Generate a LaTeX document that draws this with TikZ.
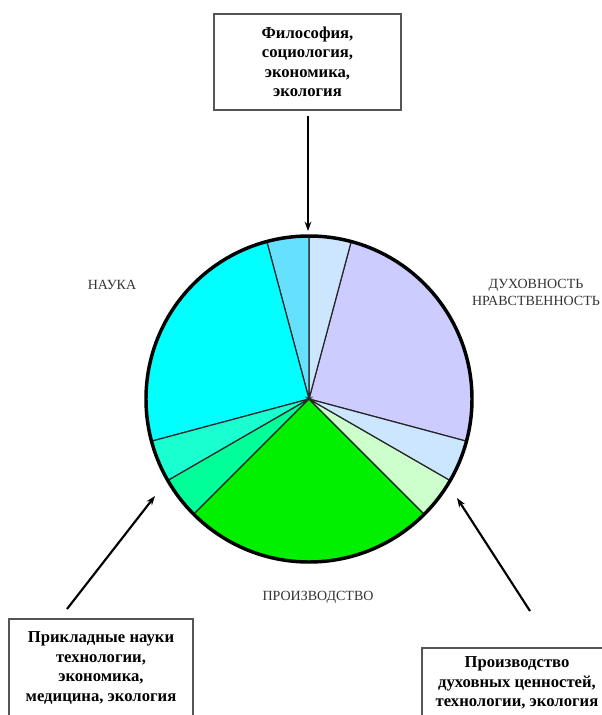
\documentclass[tikz,border=0pt]{standalone}
\usepackage{fontspec}
\setmainfont{Liberation Serif}
\usetikzlibrary{arrows.meta}
\definecolor{sA}{HTML}{CCE6FF}
\definecolor{sB}{HTML}{66E0FF}
\definecolor{sC}{HTML}{00FFFF}
\definecolor{sD}{HTML}{1AFFD0}
\definecolor{sE}{HTML}{00FF99}
\definecolor{sF}{HTML}{00F000}
\definecolor{sG}{HTML}{CCFFCC}
\definecolor{sH}{HTML}{CCE6FF}
\definecolor{sI}{HTML}{CCCCFF}
\definecolor{boxline}{HTML}{555555}
\definecolor{labelgray}{HTML}{333333}
\tikzset{
  infobox/.style={draw=boxline, line width=0.8pt, fill=white, align=center,
    font=\fontsize{12.5}{14.6}\selectfont\bfseries, inner sep=0pt},
  sectorlabel/.style={align=center, text=labelgray,
    font=\fontsize{10.5}{12.75}\selectfont, inner sep=0pt},
  bigarrow/.style={line width=1.6pt, -{Stealth[length=7pt,width=5pt]}},
  sectorline/.style={draw=black!85, line width=0.9pt},
}
\newcommand{\piesector}[3]{%
  \filldraw[fill=#1, sectorline] (c) -- ++(#2:122.25pt) arc[start angle=#2, end angle=#3, radius=122.25pt] -- cycle;}
\begin{document}
\begin{tikzpicture}[x=0.75pt, y=-0.75pt]
\useasboundingbox (0,0) rectangle (601,715);
\coordinate (c) at (309,399);
% pie sectors
\piesector{sI}{-15}{75}
\piesector{sA}{75}{90}
\piesector{sB}{90}{105}
\piesector{sC}{105}{195}
\piesector{sD}{195}{210}
\piesector{sE}{210}{225}
\piesector{sF}{225}{315}
\piesector{sG}{315}{330}
\piesector{sH}{330}{345}
\draw[line width=2.6pt] (c) circle[radius=122.25pt];
% boxes
\node[infobox, minimum width=140.25pt, minimum height=72pt] (tb) at (307.5,62)
  {Философия,\\социология,\\экономика,\\экология};
\node[infobox, minimum width=138pt, minimum height=73.5pt] (lb) at (101,668)
  {Прикладные науки\\технологии,\\экономика,\\медицина, экология};
\node[infobox, minimum width=142.5pt, minimum height=52.5pt] (rb) at (517,683)
  {Производство\\духовных ценностей,\\технологии, экология};
% labels
\node[sectorlabel] (nauka) at (112,285) {НАУКА};
\node[sectorlabel] (duh) at (536,292) {ДУХОВНОСТЬ\\НРАВСТВЕННОСТЬ};
\node[sectorlabel] (proizv) at (318,597) {ПРОИЗВОДСТВО};
% arrows
\coordinate (t1) at (308,116);
\coordinate (h1) at (308,231);
\coordinate (t2) at (67,609);
\coordinate (h2) at (155,496);
\coordinate (t3) at (530,611);
\coordinate (h3) at (457,498);
\draw[bigarrow] (t1) -- (h1);
\draw[bigarrow] (t2) -- (h2);
\draw[bigarrow] (t3) -- (h3);
\end{tikzpicture}
\end{document}
